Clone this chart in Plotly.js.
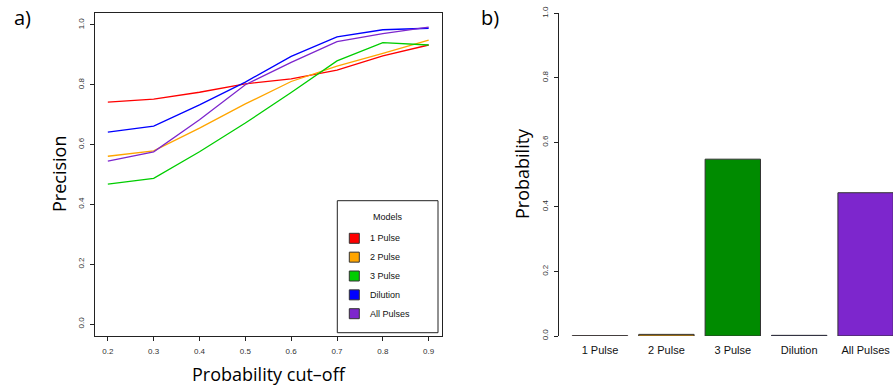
<!DOCTYPE html>
<html><head><meta charset="utf-8">
<script src="https://cdn.plot.ly/plotly-3.0.1.min.js"></script>
<style>html,body{margin:0;padding:0;overflow:hidden;background:#fff;width:893px;height:385px}</style>
</head><body><div id="chart"></div>
<script>
// ---- data ----
var cutoffs = [0.2, 0.3, 0.4, 0.5, 0.6, 0.7, 0.8, 0.9];
var pulse1   = [0.742, 0.752, 0.775, 0.803, 0.820, 0.849, 0.897, 0.933];
var pulse2   = [0.561, 0.579, 0.655, 0.736, 0.811, 0.862, 0.905, 0.949];
var pulse3   = [0.468, 0.487, 0.576, 0.672, 0.774, 0.880, 0.941, 0.933];
var dilution = [0.642, 0.662, 0.733, 0.809, 0.895, 0.960, 0.984, 0.989];
var allPulses= [0.545, 0.576, 0.683, 0.800, 0.875, 0.944, 0.971, 0.993];
var modelNames = ["1 Pulse", "2 Pulse", "3 Pulse", "Dilution", "All Pulses"];
var lineColors = ["#FF0000", "#FFA500", "#00CD00", "#0000FF", "#7D26CD"];
var barColors  = ["#FF0000", "#FFA500", "#008B00", "#0000FF", "#7D26CD"];
var modelProb  = [0.001, 0.005, 0.548, 0.002, 0.444];
var xTicks = [0.2, 0.3, 0.4, 0.5, 0.6, 0.7, 0.8, 0.9];
var yTicks = [0.0, 0.2, 0.4, 0.6, 0.8, 1.0];

var W = 930, H = 385;
function px(x){ return x / W; }
function py(y){ return 1 - y / H; }

var series = [pulse1, pulse2, pulse3, dilution, allPulses];
var traces = series.map(function(s, i){
  return {x: cutoffs, y: s, type: 'scatter', mode: 'lines', name: modelNames[i],
    line: {color: lineColors[i], width: 1.3}, xaxis: 'x', yaxis: 'y', showlegend: false, hoverinfo: 'skip'};
});
traces.push({x: modelNames, y: modelProb, type: 'bar', xaxis: 'x2', yaxis: 'y2', showlegend: false,
  marker: {color: barColors, line: {color: '#333333', width: 1}}, hoverinfo: 'skip'});

var tickFont = {family: 'Liberation Sans, Arial, sans-serif', size: 8, color: '#333'};
var shapes = [];
var annotations = [];
// legend box
var lg = {l: 337.3, t: 200.7, r: 438, b: 332.7};
shapes.push({type: 'rect', xref: 'paper', yref: 'paper', x0: px(lg.l), x1: px(lg.r), y0: py(lg.t), y1: py(lg.b),
  line: {color: '#222', width: 1}, fillcolor: '#fff', layer: 'above'});
annotations.push({xref: 'paper', yref: 'paper', x: px(387.5), y: py(216.7), text: 'Models', showarrow: false,
  font: {family: 'Liberation Sans, Arial, sans-serif', size: 9, color: '#111'}, xanchor: 'center', yanchor: 'middle'});
modelNames.forEach(function(n, i){
  var yc = 238.3 + i * 18.85;
  shapes.push({type: 'rect', xref: 'paper', yref: 'paper', x0: px(349.3), x1: px(359.3), y0: py(yc - 5), y1: py(yc + 5),
    line: {color: '#333', width: 1}, fillcolor: lineColors[i], layer: 'above'});
  annotations.push({xref: 'paper', yref: 'paper', x: px(367.5), y: py(yc), text: n, showarrow: false,
    font: {family: 'Liberation Sans, Arial, sans-serif', size: 9, color: '#111'}, xanchor: 'left', yanchor: 'middle'});
});
// panel labels and axis titles
var bigFont = {family: 'Open Sans, sans-serif', size: 20, color: '#000'};
annotations.push({xref: 'paper', yref: 'paper', x: px(22), y: py(17), text: 'a)', showarrow: false, font: bigFont, xanchor: 'center', yanchor: 'middle'});
annotations.push({xref: 'paper', yref: 'paper', x: px(490), y: py(17), text: 'b)', showarrow: false, font: bigFont, xanchor: 'center', yanchor: 'middle'});
var titleFont = {family: 'Open Sans, sans-serif', size: 18, color: '#000'};
annotations.push({xref: 'paper', yref: 'paper', x: px(59), y: py(174), text: 'Precision', textangle: -90, showarrow: false, font: titleFont, xanchor: 'center', yanchor: 'middle'});
annotations.push({xref: 'paper', yref: 'paper', x: px(269), y: py(374), text: 'Probability cut\u2013off', showarrow: false, font: titleFont, xanchor: 'center', yanchor: 'middle'});
annotations.push({xref: 'paper', yref: 'paper', x: px(522), y: py(174), text: 'Probability', textangle: -90, showarrow: false, font: titleFont, xanchor: 'center', yanchor: 'middle'});

var layout = {
  width: W, height: H, margin: {l: 0, r: 0, t: 0, b: 0},
  paper_bgcolor: '#fff', plot_bgcolor: '#fff', showlegend: false,
  xaxis: {domain: [px(95), px(441.5)], range: [0.172, 0.928], tickvals: xTicks, ticktext: xTicks.map(function(v){return v.toFixed(1);}),
    showgrid: false, zeroline: false, showline: true, mirror: true, linecolor: '#222', linewidth: 1,
    ticks: 'outside', ticklen: 4, tickcolor: '#222', tickfont: tickFont, ticklabelstandoff: 3},
  yaxis: {domain: [py(336), py(13)], range: [-0.04, 1.04], tickvals: yTicks, ticktext: yTicks.map(function(v){return v.toFixed(1);}),
    tickangle: -90, showgrid: false, zeroline: false, showline: true, mirror: true, linecolor: '#222', linewidth: 1,
    ticks: 'outside', ticklen: 4, tickcolor: '#222', tickfont: tickFont, ticklabelstandoff: 3},
  xaxis2: {domain: [px(559.3), 1], range: [-0.613, 4.97], type: 'category', anchor: 'y2',
    showgrid: false, zeroline: false, showline: false, ticks: '', tickfont: {family: 'Liberation Sans, Arial, sans-serif', size: 11, color: '#111'}, ticklabelstandoff: 6},
  yaxis2: {domain: [py(336), py(13.3)], range: [0, 1], anchor: 'x2', tickvals: yTicks, ticktext: yTicks.map(function(v){return v.toFixed(1);}),
    tickangle: -90, showgrid: false, zeroline: false, showline: true, linecolor: '#222', linewidth: 1,
    ticks: 'outside', ticklen: 4, tickcolor: '#222', tickfont: tickFont, ticklabelstandoff: 3},
  bargap: 0.166,
  shapes: shapes, annotations: annotations
};
Plotly.newPlot('chart', traces, layout, {staticPlot: true, displayModeBar: false});
</script></body></html>
